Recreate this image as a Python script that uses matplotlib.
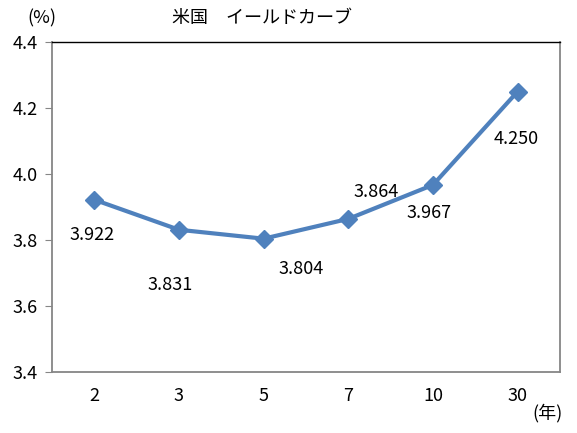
import matplotlib
matplotlib.use("Agg")
import matplotlib.pyplot as plt

plt.rcParams['font.family'] = ['Noto Sans CJK JP', 'DejaVu Sans']

maturities = ['2', '3', '5', '7', '10', '30']
yields = [3.922, 3.831, 3.804, 3.864, 3.967, 4.250]
labels = ['3.922', '3.831', '3.804', '3.864', '3.967', '4.250']
# label offsets from marker, in pixels
offsets = [(-2, -35), (-9, -55), (37, -30), (28, 27), (-4, -28), (-1, -47)]

FS = 13
W, H = 577, 433
fig = plt.figure(figsize=(W / 100, H / 100), dpi=100)
ax = fig.add_axes([52 / W, 1 - 372 / H, (560 - 52) / W, (372 - 42) / H])

x = list(range(len(maturities)))
ax.plot(x, yields, color='#4F81BD', lw=3, marker='D', ms=9,
        markeredgecolor='#4F81BD', solid_joinstyle='round')

for xi, yi, lab, (dx, dy) in zip(x, yields, labels, offsets):
    ax.annotate(lab, (xi, yi), xytext=(dx, dy), textcoords='offset pixels',
                ha='center', va='center', fontsize=FS)

ax.set_xlim(-0.5, len(maturities) - 0.5)
ax.set_ylim(3.4, 4.4)
ax.set_yticks([3.4, 3.6, 3.8, 4.0, 4.2, 4.4])
ax.set_yticklabels(['3.4', '3.6', '3.8', '4.0', '4.2', '4.4'])
ax.set_xticks(x)
ax.set_xticklabels(maturities)
ax.tick_params(axis='x', length=0, pad=11, labelsize=FS)
ax.tick_params(axis='y', length=5, color='#868686', pad=5, labelsize=FS)

for side in ['left', 'bottom', 'right']:
    ax.spines[side].set_color('#868686')
    ax.spines[side].set_linewidth(1.3)
ax.spines['top'].set_color('black')
ax.spines['top'].set_linewidth(1.0)

fig.text(262 / W, 1 - 18 / H, '米国\u3000イールドカーブ', ha='center', va='center', fontsize=FS)
fig.text(42 / W, 1 - 18 / H, '(%)', ha='center', va='center', fontsize=FS)
fig.text(548 / W, 1 - 413 / H, '(年)', ha='center', va='center', fontsize=FS)

fig.savefig('out.png', dpi=100)
